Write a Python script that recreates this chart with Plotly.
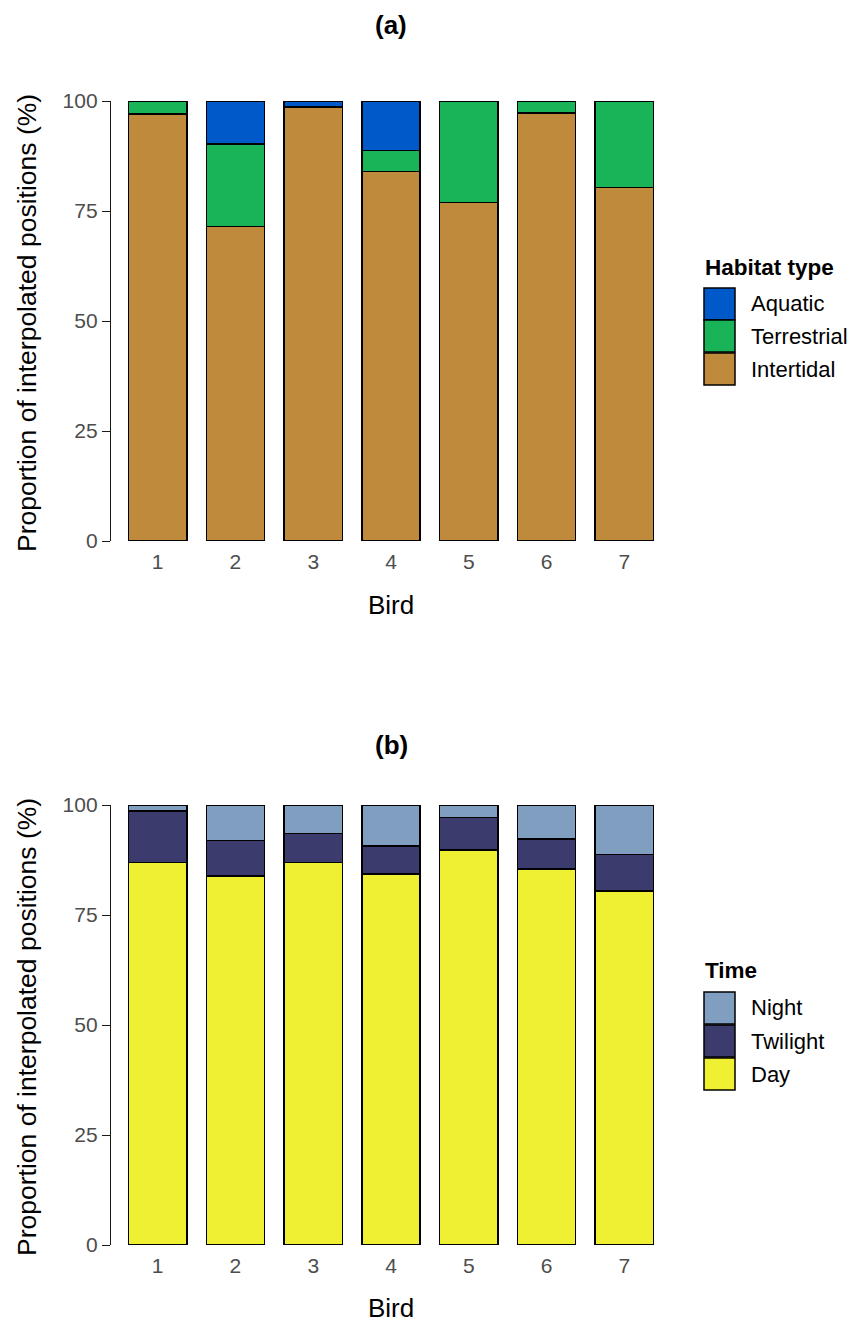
import plotly.graph_objects as go

birds = ["1", "2", "3", "4", "5", "6", "7"]

# Panel (a): habitat type (%)
intertidal = [97.0, 71.5, 98.6, 84.0, 76.9, 97.3, 80.3]
terrestrial = [3.0, 18.7, 0.0, 4.7, 23.1, 2.7, 19.7]
aquatic = [0.0, 9.8, 1.4, 11.3, 0.0, 0.0, 0.0]

# Panel (b): time of day (%)
day = [86.9, 83.9, 86.9, 84.3, 89.8, 85.4, 80.5]
twilight = [11.7, 8.0, 6.6, 6.4, 7.4, 6.9, 8.2]
night = [1.4, 8.1, 6.5, 9.3, 2.8, 7.7, 11.3]

habitat_names = ["Aquatic", "Terrestrial", "Intertidal"]
habitat_colors = ["#0059C8", "#19B457", "#C08A3C"]
time_names = ["Night", "Twilight", "Day"]
time_colors = ["#809FC0", "#3B3B6E", "#F0F032"]

W, H = 857, 1322
OFF = 8  # page body margin
FONT = "Liberation Sans, Arial, sans-serif"

def px(x):
    return (x - OFF) / W

def py(y):
    return 1 - (y - OFF) / H

fig = go.Figure()

def add_bars(yvals, name, color, xa, ya):
    fig.add_trace(go.Bar(
        x=birds, y=yvals, name=name, xaxis=xa, yaxis=ya,
        marker=dict(color=color, line=dict(color="black", width=1.5)),
        width=0.75, cliponaxis=False, showlegend=False,
    ))

# panel a (top), stacking bottom-up
add_bars(intertidal, "Intertidal", habitat_colors[2], "x", "y")
add_bars(terrestrial, "Terrestrial", habitat_colors[1], "x", "y")
add_bars(aquatic, "Aquatic", habitat_colors[0], "x", "y")
# panel b (bottom)
add_bars(day, "Day", time_colors[2], "x2", "y2")
add_bars(twilight, "Twilight", time_colors[1], "x2", "y2")
add_bars(night, "Night", time_colors[0], "x2", "y2")

xdom = [px(111), px(671)]
ya_dom = [py(541), py(101)]
yb_dom = [py(1245), py(805)]

xaxis_common = dict(
    domain=xdom, range=[-0.6, 6.6], type="category", automargin=False,
    showline=False, showgrid=False, zeroline=False,
    ticks="outside", ticklen=2, tickcolor="rgba(0,0,0,0)",
    tickfont=dict(family=FONT, size=21, color="#4D4D4D"),
)
yaxis_common = dict(
    range=[0, 100], tickvals=[0, 25, 50, 75, 100], automargin=False,
    showline=True, linecolor="#1A1A1A", linewidth=1.3,
    showgrid=False, zeroline=False,
    ticks="outside", ticklen=8, tickwidth=1.3, tickcolor="#1A1A1A",
    tickfont=dict(family=FONT, size=21, color="#4D4D4D"),
)

fig.update_layout(
    width=W, height=H, autosize=False,
    margin=dict(l=0, r=0, t=0, b=0, pad=0),
    paper_bgcolor="white", plot_bgcolor="white",
    barmode="stack", showlegend=False,
    font=dict(family=FONT),
    xaxis=dict(**xaxis_common, anchor="y"),
    yaxis=dict(**yaxis_common, domain=ya_dom, anchor="x"),
    xaxis2=dict(**xaxis_common, anchor="y2"),
    yaxis2=dict(**yaxis_common, domain=yb_dom, anchor="x2"),
)

ann = []

def A(text, xpage, ypage, size, xanchor="center", angle=0):
    ann.append(dict(text=text, x=px(xpage), y=py(ypage), xref="paper", yref="paper",
                    xanchor=xanchor, yanchor="middle", textangle=angle,
                    showarrow=False, font=dict(family=FONT, size=size, color="black")))

cxp = (111 + 671) / 2
A("<b>(a)</b>", cxp, 25, 26)
A("<b>(b)</b>", cxp, 745, 26)
for ycen, ybird in [(323, 605), (1027, 1308)]:
    A("Proportion of interpolated positions (%)", 27, ycen, 26.5, angle=-90)
    A("Bird", cxp, ybird, 26)

shapes = []
def legend(title, names, colors, title_y, box_tops):
    A(f"<b>{title}</b>", 703, title_y, 22.5, xanchor="left")
    for nm, col, top in zip(names, colors, box_tops):
        shapes.append(dict(type="rect", xref="paper", yref="paper",
                           x0=px(704), x1=px(735), y0=py(top + 32), y1=py(top),
                           fillcolor=col, line=dict(color="black", width=1.5)))
        A(nm, 749, top + 16, 22, xanchor="left")

legend("Habitat type", habitat_names, habitat_colors, 267, [288, 320, 353])
legend("Time", time_names, time_colors, 970, [992, 1025, 1058])

fig.update_layout(annotations=ann, shapes=shapes)
fig.write_html("out.html")
